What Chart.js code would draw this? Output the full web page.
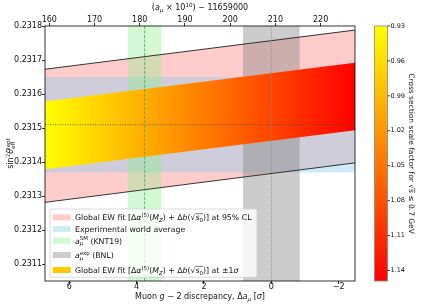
<!DOCTYPE html>
<html>
<head>
<meta charset="utf-8">
<script src="https://cdn.jsdelivr.net/npm/chart.js@4.4.0/dist/chart.umd.min.js"></script>
<style>
  body { margin: 0; background: #fff; }
  #wrap { width: 436px; height: 305px; }
</style>
</head>
<body>
<div id="wrap"><canvas id="ewChart" width="436" height="305"></canvas></div>
<script>
// a_mu x 1e10 - 11659000 on the top axis
const aMuSpan = [159.05, 227.6];
const ew95Upper = [0.231673, 0.231788];
const ew95Lower = [0.231282, 0.231398];
const ew1sUpper = [0.231578, 0.231692];
const ew1sLower = [0.231379, 0.231494];
const worldAvg = [0.23151, 0.00014];   // value, error
const aMuSM = [181.08, 3.78];          // KNT19
const aMuExp = [209.1, 6.3];           // BNL
const sigmaTot = 7.45;
const yRange = [0.231051, 0.2318];
const cbRange = [0.93, 1.149];

const topTicks = [160, 170, 180, 190, 200, 210, 220];
const bottomTicks = [6, 4, 2, 0, -2];
const yTicks = [0.2311, 0.2312, 0.2313, 0.2314, 0.2315, 0.2316, 0.2317, 0.2318];
const cbTicks = [0.93, 0.96, 0.99, 1.02, 1.05, 1.08, 1.11, 1.14];

const FONT = '"DejaVu Sans", sans-serif';

// rich text: segments {t, it, sup, sub, above, ov}
const ewLabel = (tail) => [
  {t: 'Global EW fit [Δ'}, {t: 'α', it: 1}, {t: '(5)', sup: 1}, {t: '('}, {t: 'M', it: 1}, {t: 'Z', it: 1, sub: 1},
  {t: ') + Δ'}, {t: 'b', it: 1}, {t: '(√'}, {t: 's', it: 1, ov: 1}, {t: '0', sub: 1, ov: 1}, {t: ')] at '}
].concat(tail);
const legendItems = [
  {color: 'rgba(255,0,0,0.2)', text: ewLabel([{t: '95% CL'}])},
  {color: 'rgba(135,206,235,0.4)', text: [{t: 'Experimental world average'}]},
  {color: 'rgba(144,238,144,0.4)', text: [{t: 'a', it: 1}, {t: 'μ', it: 1, sub: 1, above: 'SM'}, {t: ' (KNT19)'}]},
  {color: 'rgba(128,128,128,0.4)', text: [{t: 'a', it: 1}, {t: 'μ', it: 1, sub: 1, above: 'exp'}, {t: ' (BNL)'}]},
  {color: '#ffc800', text: ewLabel([{t: '±1'}, {t: 'σ', it: 1}])}
];
const legendRowY = [8.3, 20, 31.7, 46, 61];

const topTitle = [{t: '('}, {t: 'a', it: 1}, {t: 'μ', it: 1, sub: 1}, {t: ' × 10'}, {t: '10', sup: 1}, {t: ') − 11659000'}];
const bottomTitle = [{t: 'Muon '}, {t: 'g', it: 1}, {t: ' − 2 discrepancy, Δ'}, {t: 'a', it: 1}, {t: 'μ', it: 1, sub: 1}, {t: ' ['}, {t: 'σ', it: 1}, {t: ']'}];
const yTitle = [{t: 'sin'}, {t: '2', sup: 1}, {t: 'θ', it: 1}, {t: 'eff', sub: 1, above: 'lept'}];
const cbTitle = [{t: 'Cross section scale factor for √'}, {t: 's', ov: 1}, {t: ' ≤ 0.7 GeV'}];

function segFont(seg, size) {
  const s = (seg.sup || seg.sub) ? size * 0.7 : size;
  return (seg.it ? 'italic ' : '') + s.toFixed(2) + 'px ' + FONT;
}
function segW(c, seg, size) {
  c.font = segFont(seg, size);
  let w = c.measureText(seg.t).width;
  if (seg.above) {
    c.font = segFont({sup: 1}, size);
    w = Math.max(w, c.measureText(seg.above).width);
  }
  return w;
}
function drawRich(c, segs, x, y, size, align) {
  const ws = segs.map(s => segW(c, s, size));
  const total = ws.reduce((a, b) => a + b, 0);
  let cx = align === 'center' ? x - total / 2 : x;
  c.textAlign = 'left';
  c.textBaseline = 'alphabetic';
  segs.forEach((s, i) => {
    c.font = segFont(s, size);
    const dy = s.sup ? -size * 0.4 : s.sub ? size * 0.22 : 0;
    c.fillText(s.t, cx, y + dy);
    if (s.above) {
      c.font = segFont({sup: 1}, size);
      c.fillText(s.above, cx, y - size * 0.4);
    }
    if (s.ov) {
      c.save();
      c.lineWidth = 0.6;
      c.strokeStyle = c.fillStyle;
      c.beginPath();
      c.moveTo(cx, y - size * 0.82);
      c.lineTo(cx + ws[i], y - size * 0.82);
      c.stroke();
      c.restore();
    }
    cx += ws[i];
  });
  return total;
}

const pts = (ys) => aMuSpan.map((x, i) => ({x: x, y: ys[i]}));
const flat = (v) => aMuSpan.map(x => ({x: x, y: v}));
const vband = (m) => [{x: m[0] - m[1], y: yRange[1]}, {x: m[0] + m[1], y: yRange[1]}];
const vline = (x) => [{x: x, y: yRange[0]}, {x: x, y: yRange[1]}];

function bandGradient(context) {
  const chart = context.chart;
  const sx = chart.scales.xTop;
  if (!chart.chartArea || !sx) return '#ff8000';
  const g = chart.ctx.createLinearGradient(sx.getPixelForValue(aMuSpan[0]), 0, sx.getPixelForValue(aMuSpan[1]), 0);
  g.addColorStop(0, '#ffff00');
  g.addColorStop(1, '#ff0000');
  return g;
}

const base = {xAxisID: 'xTop', yAxisID: 'y', pointRadius: 0, borderWidth: 0, tension: 0, fill: false};

const datasets = [
  Object.assign({}, base, {data: pts(ew95Lower), order: 10}),
  Object.assign({}, base, {data: pts(ew95Upper), order: 10, fill: '-1', backgroundColor: 'rgba(255,0,0,0.2)'}),
  Object.assign({}, base, {data: flat(worldAvg[0] + worldAvg[1]), order: 9,
    fill: {value: worldAvg[0] - worldAvg[1]}, backgroundColor: 'rgba(135,206,235,0.4)'}),
  Object.assign({}, base, {data: vband(aMuSM), order: 8, fill: 'start', backgroundColor: 'rgba(144,238,144,0.4)'}),
  Object.assign({}, base, {data: vband(aMuExp), order: 7, fill: 'start', backgroundColor: 'rgba(128,128,128,0.4)'}),
  Object.assign({}, base, {data: pts(ew1sLower), order: 6}),
  Object.assign({}, base, {data: pts(ew1sUpper), order: 6, fill: '-1', backgroundColor: bandGradient}),
  Object.assign({}, base, {data: pts(ew95Upper), order: 5, borderWidth: 1, borderColor: '#333'}),
  Object.assign({}, base, {data: pts(ew95Lower), order: 5, borderWidth: 1, borderColor: '#333'}),
  Object.assign({}, base, {data: flat(worldAvg[0]), order: 4, borderWidth: 0.8, borderColor: '#444', borderDash: [1, 1.5]}),
  Object.assign({}, base, {data: vline(aMuSM[0]), order: 3, borderWidth: 0.8, borderColor: '#3cb03c', borderDash: [3, 1.5]}),
  Object.assign({}, base, {data: vline(aMuExp[0]), order: 3, borderWidth: 0.8, borderColor: '#888', borderDash: [1, 1]})
];

const tickFont = {family: 'DejaVu Sans', size: 8};
const axisGrid = {drawOnChartArea: false, drawTicks: true, tickLength: 3, color: '#000', lineWidth: 0.8};

const overlay = {
  id: 'overlay',
  afterDraw(chart) {
    const c = chart.ctx, ca = chart.chartArea;
    c.save();
    // frame
    c.strokeStyle = '#000';
    c.lineWidth = 0.8;
    c.strokeRect(ca.left, ca.top, ca.right - ca.left, ca.bottom - ca.top);

    // legend
    const lx = ca.left + 5, ly = ca.bottom - 72, lw = 207, lh = 68.3;
    c.fillStyle = 'rgba(255,255,255,0.8)';
    c.strokeStyle = '#d0d0d0';
    c.lineWidth = 0.8;
    c.beginPath();
    c.roundRect(lx, ly, lw, lh, 2);
    c.fill();
    c.stroke();
    legendItems.forEach((it, i) => {
      const cy = ly + legendRowY[i];
      c.fillStyle = '#fff';
      c.fillRect(lx + 2.7, cy - 3, 18, 6);
      c.fillStyle = it.color;
      c.fillRect(lx + 2.7, cy - 3, 18, 6);
      c.fillStyle = '#111';
      drawRich(c, it.text, lx + 25, cy + 2.8, 7.8, 'left');
    });

    // titles
    c.fillStyle = '#111';
    const mid = (ca.left + ca.right) / 2;
    drawRich(c, topTitle, mid, 10, 8, 'center');
    drawRich(c, bottomTitle, mid, 299, 8, 'center');
    c.save();
    c.translate(13, (ca.top + ca.bottom) / 2);
    c.rotate(-Math.PI / 2);
    drawRich(c, yTitle, 0, 0, 8, 'center');
    c.restore();

    // colorbar
    const cb = chart.scales.cb;
    const bx = ca.right + 19.5, bw = 13;
    const g = c.createLinearGradient(0, cb.getPixelForValue(cbRange[0]), 0, cb.getPixelForValue(cbRange[1]));
    g.addColorStop(0, '#ffff00');
    g.addColorStop(1, '#ff0000');
    c.fillStyle = g;
    c.fillRect(bx, ca.top, bw, ca.bottom - ca.top);
    c.strokeStyle = '#888';
    c.lineWidth = 0.8;
    c.strokeRect(bx, ca.top, bw, ca.bottom - ca.top);
    c.strokeStyle = '#000';
    c.fillStyle = '#111';
    c.font = '6.5px ' + FONT;
    c.textAlign = 'left';
    c.textBaseline = 'middle';
    cbTicks.forEach(v => {
      const y = cb.getPixelForValue(v);
      c.beginPath();
      c.moveTo(bx + bw, y);
      c.lineTo(bx + bw + 2.5, y);
      c.stroke();
      c.fillText(v.toFixed(2), bx + bw + 3, y);
    });
    c.save();
    c.translate(ca.right + 53.5, (ca.top + ca.bottom) / 2);
    c.rotate(Math.PI / 2);
    drawRich(c, cbTitle, 0, 0, 7.5, 'center');
    c.restore();
    c.restore();
  }
};

const ctx = document.getElementById('ewChart').getContext('2d');
new Chart(ctx, {
  type: 'line',
  data: {datasets: datasets},
  options: {
    responsive: false,
    animation: false,
    events: [],
    layout: {padding: {left: 0, right: 81, top: 0, bottom: 0}},
    plugins: {legend: {display: false}, tooltip: {enabled: false}},
    scales: {
      xTop: {
        type: 'linear', position: 'top', min: aMuSpan[0], max: aMuSpan[1],
        afterBuildTicks: s => { s.ticks = topTicks.map(v => ({value: v})); },
        afterFit: s => { s.height = 26; },
        ticks: {font: tickFont, color: '#111', padding: -1.5, maxRotation: 0, callback: v => String(v)},
        grid: axisGrid, border: {display: false}
      },
      x: {
        type: 'linear', position: 'bottom', reverse: true,
        min: (aMuExp[0] - aMuSpan[1]) / sigmaTot, max: (aMuExp[0] - aMuSpan[0]) / sigmaTot,
        afterBuildTicks: s => { s.ticks = bottomTicks.map(v => ({value: v})); },
        afterFit: s => { s.height = 24; },
        ticks: {font: tickFont, color: '#111', padding: -2, maxRotation: 0,
          callback: v => v < 0 ? '−' + Math.abs(v) : String(v)},
        grid: axisGrid, border: {display: false}
      },
      y: {
        type: 'linear', position: 'left', min: yRange[0], max: yRange[1],
        afterBuildTicks: s => { s.ticks = yTicks.map(v => ({value: v})); },
        afterFit: s => { s.width = 45; },
        ticks: {font: tickFont, color: '#111', padding: 0, callback: v => v.toFixed(4)},
        grid: axisGrid, border: {display: false}
      },
      cb: {
        type: 'linear', axis: 'y', position: 'right', display: false, reverse: true,
        min: cbRange[0], max: cbRange[1]
      }
    }
  },
  plugins: [overlay]
});
</script>
</body>
</html>
